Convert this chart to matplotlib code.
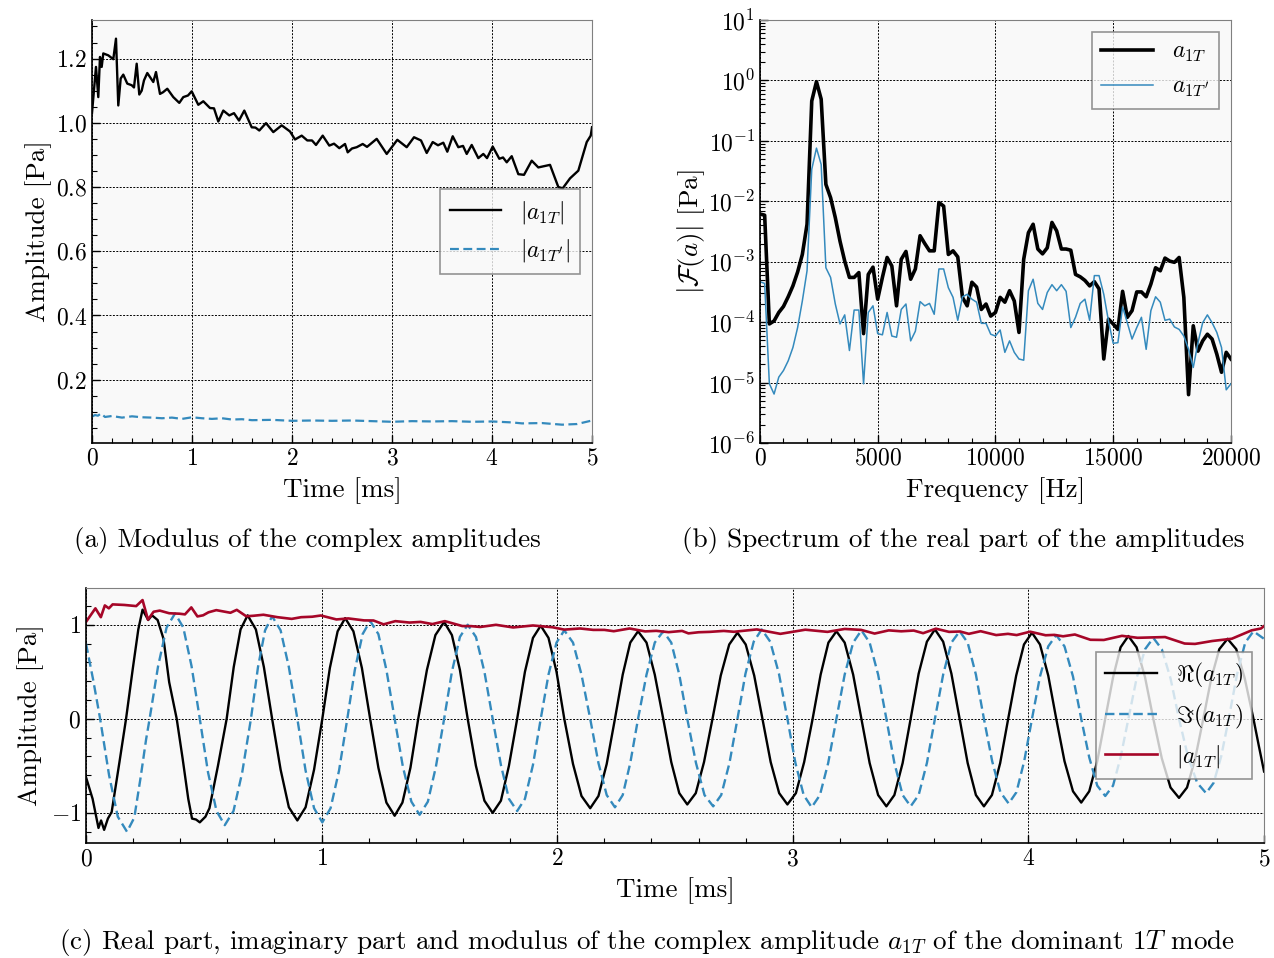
import numpy as np
import matplotlib.pyplot as plt
from matplotlib.ticker import MultipleLocator, LogLocator, NullFormatter

plt.rcParams.update({
    "font.family": "serif",
    "font.serif": ["cmr10"],
    "mathtext.fontset": "cm",
    "axes.formatter.use_mathtext": True,
    "font.size": 17,
    "axes.labelsize": 19.5,
})

BLUE = "#348ABD"
RED = "#A60628"
BG = "#f9f9f9"

# ---- |a_1T| (modulus) ---------------------------------------------------
mod_t = [0.000, 0.040, 0.063, 0.080, 0.097, 0.113, 0.163, 0.213, 0.240, 0.263,
         0.287, 0.313, 0.353, 0.397, 0.420, 0.447, 0.473, 0.497, 0.520, 0.553,
         0.613, 0.640, 0.680, 0.710, 0.753, 0.813, 0.873, 0.913, 0.960, 0.997,
         1.063, 1.113, 1.180, 1.220, 1.263, 1.313, 1.373, 1.420, 1.470, 1.523,
         1.597, 1.635, 1.673, 1.740, 1.813, 1.897, 1.980, 2.030, 2.097, 2.153,
         2.200, 2.240, 2.307, 2.373, 2.420, 2.473, 2.530, 2.557, 2.600, 2.647,
         2.707, 2.750, 2.847, 2.947, 3.053, 3.147, 3.220, 3.290, 3.347, 3.407,
         3.460, 3.513, 3.553, 3.607, 3.663, 3.710, 3.747, 3.797, 3.863, 3.913,
         3.950, 4.007, 4.073, 4.110, 4.147, 4.197, 4.263, 4.320, 4.397, 4.463,
         4.580, 4.663, 4.707, 4.780, 4.863, 4.947, 4.987, 5.000]
mod_v = [1.030, 1.174, 1.080, 1.205, 1.174, 1.216, 1.210, 1.198, 1.262, 1.054,
         1.138, 1.150, 1.122, 1.117, 1.110, 1.184, 1.088, 1.100, 1.132, 1.155,
         1.127, 1.158, 1.090, 1.095, 1.106, 1.080, 1.062, 1.080, 1.085, 1.098,
         1.056, 1.067, 1.046, 1.045, 1.004, 1.038, 1.023, 1.030, 1.007, 1.038,
         0.986, 0.985, 0.976, 0.999, 0.971, 0.992, 0.973, 0.948, 0.960, 0.945,
         0.945, 0.931, 0.960, 0.929, 0.935, 0.921, 0.934, 0.908, 0.920, 0.924,
         0.934, 0.925, 0.950, 0.903, 0.947, 0.924, 0.955, 0.945, 0.906, 0.940,
         0.930, 0.938, 0.910, 0.958, 0.924, 0.928, 0.903, 0.931, 0.890, 0.903,
         0.890, 0.926, 0.888, 0.892, 0.877, 0.896, 0.840, 0.838, 0.882, 0.861,
         0.869, 0.800, 0.796, 0.827, 0.851, 0.940, 0.960, 0.986]

# ---- |a_1T'| -------------------------------------------------------------
modp_t = [0.00, 0.03, 0.06, 0.09, 0.13, 0.20, 0.30, 0.40, 0.50, 0.60,
          0.70, 0.80, 0.90, 1.00, 1.10, 1.20, 1.30, 1.40, 1.50, 1.60,
          1.80, 2.00, 2.20, 2.40, 2.60, 2.80, 3.00, 3.20, 3.40, 3.60,
          3.80, 4.00, 4.20, 4.30, 4.50, 4.70, 4.85, 5.00]
modp_v = [0.085, 0.090, 0.088, 0.095, 0.084, 0.087, 0.082, 0.086, 0.083, 0.082,
          0.080, 0.082, 0.078, 0.083, 0.080, 0.078, 0.080, 0.076, 0.077, 0.074,
          0.075, 0.072, 0.073, 0.072, 0.073, 0.071, 0.069, 0.071, 0.070, 0.071,
          0.069, 0.070, 0.067, 0.064, 0.065, 0.060, 0.062, 0.073]

# ---- Re(a_1T), panel (c) -------------------------------------------------
re_t = [0.000, 0.028, 0.053, 0.064, 0.077, 0.093, 0.109, 0.142, 0.170, 0.199,
        0.222, 0.240, 0.264, 0.280, 0.304, 0.329, 0.353, 0.385, 0.410, 0.434,
        0.450, 0.467, 0.483, 0.507, 0.524, 0.560, 0.597,
        0.627, 0.656, 0.686, 0.721, 0.755, 0.790, 0.826, 0.861, 0.897, 0.932, 0.968, 1.003,
        1.035, 1.068, 1.100, 1.135, 1.171, 1.206, 1.241, 1.275, 1.310, 1.343, 1.377, 1.410,
        1.447, 1.483, 1.520, 1.553, 1.587, 1.620, 1.655, 1.691, 1.726, 1.761, 1.795, 1.830,
        1.863, 1.897, 1.930, 1.963, 1.997, 2.030, 2.067, 2.103, 2.140, 2.175, 2.210, 2.245,
        2.278, 2.310, 2.343, 2.379, 2.414, 2.450, 2.484, 2.518, 2.552, 2.588, 2.623, 2.659,
        2.694, 2.730, 2.765, 2.800, 2.836, 2.871, 2.906, 2.942, 2.977, 3.013, 3.048, 3.084,
        3.118, 3.151, 3.185, 3.220, 3.256, 3.291, 3.326, 3.362, 3.397, 3.431, 3.466, 3.500,
        3.534, 3.569, 3.603, 3.638, 3.673, 3.708, 3.742, 3.777, 3.811, 3.845, 3.880, 3.914,
        3.948, 3.981, 4.015, 4.049, 4.084, 4.118, 4.153, 4.189, 4.224, 4.258, 4.292, 4.326,
        4.359, 4.391, 4.424, 4.459, 4.495, 4.530, 4.566, 4.603, 4.639, 4.673, 4.708, 4.742,
        4.776, 4.810, 4.845, 4.882, 4.918, 4.955, 4.978, 5.000]
re_v = [-0.62, -0.85, -1.16, -1.08, -1.18, -1.06, -0.99, -0.46, 0.00, 0.54,
        0.95, 1.16, 1.05, 1.10, 1.05, 0.85, 0.39, 0.00, -0.42, -0.85,
        -1.06, -1.07, -1.10, -1.04, -0.95, -0.50, 0.00,
        0.55, 0.95, 1.10, 0.95, 0.55, 0.00, -0.54, -0.94, -1.08, -0.94, -0.54, 0.00,
        0.54, 0.93, 1.07, 0.93, 0.54, 0.00, -0.52, -0.89, -1.03, -0.89, -0.52, 0.00,
        0.52, 0.89, 1.03, 0.89, 0.52, 0.00, -0.50, -0.87, -1.00, -0.87, -0.50, 0.00,
        0.50, 0.86, 0.99, 0.86, 0.50, 0.00, -0.48, -0.82, -0.95, -0.82, -0.48, 0.00,
        0.47, 0.81, 0.93, 0.81, 0.47, 0.00, -0.46, -0.79, -0.91, -0.79, -0.46, 0.00,
        0.46, 0.79, 0.915, 0.79, 0.46, 0.00, -0.46, -0.79, -0.91, -0.79, -0.46, 0.00,
        0.47, 0.81, 0.93, 0.81, 0.47, 0.00, -0.47, -0.81, -0.93, -0.81, -0.47, 0.00,
        0.48, 0.82, 0.95, 0.82, 0.48, 0.00, -0.47, -0.81, -0.93, -0.81, -0.47, 0.00,
        0.46, 0.79, 0.915, 0.79, 0.46, 0.00, -0.45, -0.77, -0.89, -0.77, -0.45, 0.00,
        0.44, 0.76, 0.88, 0.76, 0.44, 0.00, -0.42, -0.73, -0.84, -0.73, -0.42, 0.00,
        0.43, 0.74, 0.85, 0.74, 0.43, 0.00, -0.29, -0.56]

# ---- Im(a_1T), panel (c) -------------------------------------------------
im_t = [0.000, 0.030, 0.060, 0.098, 0.135, 0.174, 0.205, 0.232, 0.255, 0.270,
        0.306, 0.342, 0.378,
        0.413, 0.448, 0.483, 0.518, 0.554, 0.589, 0.626, 0.663, 0.700, 0.730, 0.760, 0.790,
        0.826, 0.861, 0.897, 0.932, 0.968, 1.003, 1.038, 1.074, 1.109, 1.141, 1.174, 1.206,
        1.241, 1.275, 1.310, 1.345, 1.381, 1.416, 1.451, 1.485, 1.520, 1.553, 1.587, 1.620,
        1.655, 1.691, 1.726, 1.761, 1.795, 1.830, 1.863, 1.897, 1.930, 1.963, 1.997, 2.030,
        2.067, 2.103, 2.140, 2.175, 2.210, 2.245, 2.278, 2.310, 2.343, 2.379, 2.414, 2.450,
        2.484, 2.518, 2.552, 2.589, 2.625, 2.662, 2.696, 2.731, 2.765, 2.799, 2.834, 2.868,
        2.904, 2.941, 2.977, 3.011, 3.046, 3.080, 3.115, 3.150, 3.185, 3.220, 3.256, 3.291,
        3.326, 3.362, 3.397, 3.431, 3.466, 3.500, 3.534, 3.569, 3.603, 3.638, 3.673, 3.708,
        3.742, 3.777, 3.811, 3.846, 3.881, 3.916, 3.949, 3.982, 4.015, 4.049, 4.084, 4.118,
        4.153, 4.189, 4.224, 4.258, 4.292, 4.326, 4.359, 4.391, 4.424, 4.459, 4.495, 4.530,
        4.566, 4.603, 4.639, 4.677, 4.716, 4.754, 4.786, 4.818, 4.850, 4.885, 4.920, 4.955,
        5.000]
im_v = [0.80, 0.42, 0.00, -0.60, -1.04, -1.20, -1.05, -0.62, -0.22, 0.00,
        0.56, 0.97, 1.12,
        0.97, 0.56, 0.00, -0.57, -0.98, -1.13, -0.98, -0.57, 0.00, 0.55, 0.94, 1.09,
        0.94, 0.55, 0.00, -0.55, -0.95, -1.10, -0.95, -0.55, 0.00, 0.52, 0.90, 1.04,
        0.90, 0.52, 0.00, -0.51, -0.88, -1.02, -0.88, -0.51, 0.00, 0.50, 0.87, 1.00,
        0.87, 0.50, 0.00, -0.49, -0.85, -0.98, -0.85, -0.49, 0.00, 0.47, 0.81, 0.94,
        0.81, 0.47, 0.00, -0.47, -0.81, -0.94, -0.81, -0.47, 0.00, 0.47, 0.81, 0.93,
        0.81, 0.47, 0.00, -0.47, -0.81, -0.93, -0.81, -0.47, 0.00, 0.48, 0.82, 0.95,
        0.82, 0.48, 0.00, -0.47, -0.81, -0.94, -0.81, -0.47, 0.00, 0.47, 0.81, 0.94,
        0.81, 0.47, 0.00, -0.47, -0.81, -0.93, -0.81, -0.47, 0.00, 0.47, 0.81, 0.93,
        0.81, 0.47, 0.00, -0.45, -0.78, -0.90, -0.78, -0.45, 0.00, 0.45, 0.77, 0.89,
        0.77, 0.45, 0.00, -0.41, -0.71, -0.82, -0.71, -0.41, 0.00, 0.43, 0.74, 0.86,
        0.74, 0.43, 0.00, -0.40, -0.68, -0.79, -0.68, -0.40, 0.00, 0.47, 0.81, 0.93,
        0.85]

# ---- spectra (log10 of |F(a)| in Pa), 200 Hz bins ------------------------
freq_hz = np.arange(0, 20001, 200)
spec_1T_log10 = [
    -2.21, -2.23, -4.03, -3.98, -3.84, -3.74, -3.58, -3.40, -3.17, -2.88,
    -2.38, -0.34, -0.02, -0.31, -1.72, -1.94, -2.27, -2.66, -2.99, -3.26,
    -3.26, -3.18, -4.19, -3.21, -3.09, -3.62, -3.26, -2.93, -3.07, -3.73,
    -2.96, -2.83, -3.29, -3.12, -2.57, -2.70, -2.82, -2.82, -2.02, -2.08,
    -2.88, -2.82, -2.92, -3.59, -3.73, -3.34, -3.42, -3.79, -3.70, -3.90,
    -3.84, -3.59, -3.67, -3.48, -3.65, -4.17, -2.96, -2.52, -2.38, -2.79,
    -2.87, -2.77, -2.35, -2.49, -2.79, -2.79, -2.81, -3.21, -3.25, -3.31,
    -3.40, -3.33, -3.45, -4.61, -3.95, -4.03, -4.12, -3.49, -3.92, -3.81,
    -3.50, -3.50, -3.58, -3.37, -3.10, -3.15, -2.94, -2.99, -3.01, -2.93,
    -3.59, -5.20, -4.06, -4.48, -4.31, -4.20, -4.28, -4.53, -4.83, -4.50,
    -4.61]
spec_1Tp_log10 = [
    -3.33, -3.36, -5.02, -5.19, -4.91, -4.80, -4.64, -4.42, -4.09, -3.65,
    -3.15, -1.47, -1.12, -1.39, -3.10, -3.26, -3.70, -4.03, -3.88, -4.47,
    -3.80, -3.80, -5.02, -3.84, -3.73, -4.19, -4.21, -3.84, -4.23, -4.25,
    -3.79, -3.70, -4.31, -4.15, -3.66, -3.73, -3.69, -3.87, -3.12, -3.12,
    -3.43, -3.59, -3.97, -3.58, -3.54, -3.62, -3.67, -4.02, -4.02, -4.20,
    -4.23, -4.13, -4.50, -4.31, -4.50, -4.61, -4.63, -3.48, -3.29, -3.69,
    -3.79, -3.51, -3.38, -3.48, -3.38, -3.49, -4.09, -3.92, -3.69, -3.62,
    -3.97, -3.23, -3.23, -3.54, -3.98, -4.35, -4.34, -3.75, -4.01, -4.28,
    -4.09, -3.92, -4.45, -3.81, -3.58, -3.67, -3.97, -3.95, -4.08, -4.12,
    -4.23, -4.45, -4.75, -4.34, -4.01, -3.88, -4.01, -4.17, -4.42, -5.12,
    -5.02]


def style_axes(ax):
    ax.set_facecolor(BG)
    for side in ("top", "right"):
        ax.spines[side].set_color("#808080")
    for side in ("left", "bottom"):
        ax.spines[side].set_color("black")
        ax.spines[side].set_linewidth(1.2)
    ax.tick_params(which="both", direction="in", top=False, right=False)
    ax.tick_params(which="major", length=6, width=1.0)
    ax.tick_params(which="minor", length=3.5, width=0.8)
    ax.grid(True, which="major", color="black", linestyle=(0, (2, 1.5)),
            linewidth=0.7)
    ax.set_axisbelow(True)


def add_legend(ax, **kw):
    leg = ax.legend(fancybox=False, framealpha=0.8, edgecolor="#7a7a7a",
                    facecolor=BG, handlelength=2.2, handletextpad=0.8, **kw)
    leg.get_frame().set_linewidth(1.2)
    return leg


fig = plt.figure(figsize=(12.74, 9.58), dpi=100)
ax_a = fig.add_axes([0.0722, 0.5376, 0.3925, 0.4415])
ax_b = fig.add_axes([0.5965, 0.5376, 0.3697, 0.4415])
ax_c = fig.add_axes([0.0675, 0.1200, 0.9247, 0.2662])

# (a) modulus
ax_a.plot(mod_t, mod_v, color="black", lw=1.7, label=r"$|a_{1T}|$")
ax_a.plot(modp_t, modp_v, color=BLUE, lw=1.6, ls=(0, (4, 2)),
          label=r"$|a_{1T'}|$")
ax_a.set_xlim(0, 5)
ax_a.set_ylim(0.003, 1.32)
ax_a.xaxis.set_major_locator(MultipleLocator(1))
ax_a.xaxis.set_minor_locator(MultipleLocator(0.2))
ax_a.yaxis.set_major_locator(MultipleLocator(0.2))
ax_a.yaxis.set_minor_locator(MultipleLocator(0.05))
ax_a.set_xlabel("Time [ms]", labelpad=5.5)
ax_a.set_ylabel("Amplitude [Pa]", labelpad=2.5)
style_axes(ax_a)
add_legend(ax_a, loc="center right")

# (b) spectrum
ax_b.plot(freq_hz, 10.0 ** np.array(spec_1T_log10), color="black", lw=2.6,
          label=r"$a_{1T}$")
ax_b.plot(freq_hz, 10.0 ** np.array(spec_1Tp_log10), color=BLUE, lw=1.1,
          label=r"$a_{1T'}$")
ax_b.set_yscale("log")
ax_b.set_xlim(0, 20000)
ax_b.set_ylim(1e-6, 1e1)
ax_b.xaxis.set_major_locator(MultipleLocator(5000))
ax_b.xaxis.set_minor_locator(MultipleLocator(1000))
ax_b.yaxis.set_major_locator(LogLocator(base=10, numticks=20))
ax_b.yaxis.set_minor_locator(LogLocator(base=10, subs=np.arange(2, 10),
                                        numticks=20))
ax_b.yaxis.set_minor_formatter(NullFormatter())
ax_b.set_xlabel("Frequency [Hz]", labelpad=5.5)
ax_b.set_ylabel(r"$|\mathcal{F}(a)|$ [Pa]", labelpad=0.5)
style_axes(ax_b)
add_legend(ax_b, loc="upper right")

# (c) real / imaginary / modulus
ax_c.plot(re_t, re_v, color="black", lw=1.7, label=r"$\Re(a_{1T})$")
ax_c.plot(im_t, im_v, color=BLUE, lw=1.7, ls=(0, (4, 2)),
          label=r"$\Im(a_{1T})$")
ax_c.plot(mod_t, mod_v, color=RED, lw=1.9, label=r"$|a_{1T}|$")
ax_c.set_xlim(0, 5)
ax_c.set_ylim(-1.32, 1.39)
ax_c.xaxis.set_major_locator(MultipleLocator(1))
ax_c.xaxis.set_minor_locator(MultipleLocator(0.2))
ax_c.yaxis.set_major_locator(MultipleLocator(1))
ax_c.yaxis.set_minor_locator(MultipleLocator(0.2))
ax_c.set_xlabel("Time [ms]", labelpad=5.5)
ax_c.set_ylabel("Amplitude [Pa]", labelpad=5)
style_axes(ax_c)
add_legend(ax_c, loc="center right")

# captions
cap_size = 19.5
fig.text(0.241, 1 - 540 / 958, "(a) Modulus of the complex amplitudes",
         ha="center", va="center", fontsize=cap_size)
fig.text(0.756, 1 - 540 / 958, "(b) Spectrum of the real part of the amplitudes",
         ha="center", va="center", fontsize=cap_size)
fig.text(0.508, 1 - 942 / 958,
         r"(c) Real part, imaginary part and modulus of the complex amplitude "
         r"$a_{1T}$ of the dominant $1T$ mode",
         ha="center", va="center", fontsize=cap_size)

fig.savefig("out.png", dpi=100)
